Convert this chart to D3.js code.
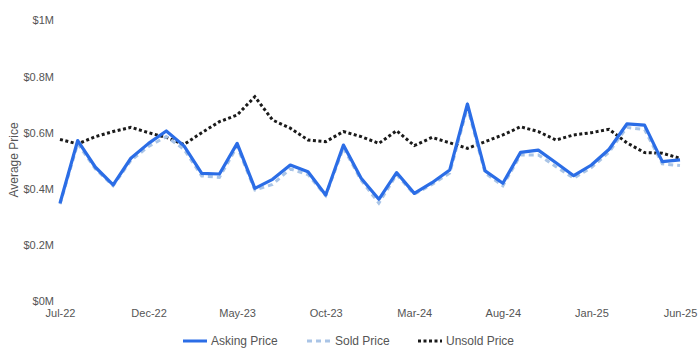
<!DOCTYPE html>
<html><head><meta charset="utf-8">
<script src="https://cdn.jsdelivr.net/npm/d3@7"></script>
<style>body{margin:0;background:#fff;} text{font-family:"Liberation Sans",Arial,sans-serif;}</style>
</head><body><svg id="c" width="700" height="350"></svg>
<script>
const months = ["Jul-22","Aug-22","Sep-22","Oct-22","Nov-22","Dec-22","Jan-23","Feb-23","Mar-23","Apr-23","May-23","Jun-23",
"Jul-23","Aug-23","Sep-23","Oct-23","Nov-23","Dec-23","Jan-24","Feb-24","Mar-24","Apr-24","May-24","Jun-24",
"Jul-24","Aug-24","Sep-24","Oct-24","Nov-24","Dec-24","Jan-25","Feb-25","Mar-25","Apr-25","May-25","Jun-25"];
const asking = [0.348,0.571,0.476,0.413,0.508,0.561,0.605,0.552,0.454,0.452,0.561,0.401,
0.433,0.484,0.460,0.377,0.555,0.437,0.362,0.457,0.383,0.421,0.466,0.701,
0.463,0.419,0.529,0.537,0.492,0.446,0.484,0.540,0.630,0.626,0.496,0.502];
const sold = [0.345,0.560,0.470,0.410,0.500,0.550,0.585,0.540,0.445,0.440,0.550,0.395,
0.415,0.470,0.450,0.375,0.545,0.430,0.348,0.450,0.380,0.415,0.455,0.690,
0.455,0.410,0.520,0.520,0.478,0.437,0.475,0.530,0.618,0.610,0.488,0.482];
const unsold = [0.575,0.559,0.585,0.603,0.618,0.599,0.582,0.557,0.599,0.638,0.662,0.727,
0.644,0.615,0.573,0.567,0.603,0.585,0.561,0.606,0.553,0.582,0.563,0.543,
0.567,0.591,0.620,0.603,0.573,0.591,0.599,0.611,0.563,0.528,0.526,0.508];
const yTicks = [0,0.2,0.4,0.6,0.8,1];
const xTickLabels = ["Jul-22","Dec-22","May-23","Oct-23","Mar-24","Aug-24","Jan-25","Jun-25"];

const svg = d3.select("#c");
const x = d3.scalePoint().domain(months).range([60,680]);
const y = d3.scaleLinear().domain([0,1]).range([301,20]);

const yAxis = svg.append("g").attr("transform","translate(54,0)")
  .call(d3.axisLeft(y).tickValues(yTicks).tickSize(0).tickPadding(0).tickFormat(d=>"$"+(d===0?"0":d===1?"1":d3.format(".1f")(d))+"M"));
yAxis.select(".domain").remove();
yAxis.selectAll("text").attr("fill","#555").style("font-size","11px").attr("dy","0.35em");

const xAxis = svg.append("g").attr("transform","translate(0,309)")
  .call(d3.axisBottom(x).tickValues(xTickLabels).tickSize(0).tickPadding(0));
xAxis.select(".domain").remove();
xAxis.selectAll("text").attr("fill","#555").style("font-size","11px").attr("dy","0.71em");

svg.append("text").attr("transform","translate(18,160) rotate(-90)").attr("text-anchor","middle")
  .attr("fill","#555").style("font-size","12px").text("Average Price");

const line = d3.line().x((d,i)=>x(months[i])).y(d=>y(d));
svg.append("path").datum(unsold).attr("d",line).attr("fill","none").attr("stroke","#1a1a1a")
  .attr("stroke-width",3).attr("stroke-dasharray","3,2.5");
svg.append("path").datum(sold).attr("d",line).attr("fill","none").attr("stroke","#a9c4e6")
  .attr("stroke-width",3).attr("stroke-dasharray","5,4");
svg.append("path").datum(asking).attr("d",line).attr("fill","none").attr("stroke","#2b6de6")
  .attr("stroke-width",3.2).attr("stroke-linejoin","round");

const legend = [
  {name:"Asking Price", color:"#2b6de6", dash:null, x:183},
  {name:"Sold Price", color:"#a9c4e6", dash:"5,4", x:307},
  {name:"Unsold Price", color:"#1a1a1a", dash:"3,2.5", x:418}
];
const lg = svg.append("g");
legend.forEach(l=>{
  lg.append("line").attr("x1",l.x).attr("x2",l.x+24).attr("y1",341).attr("y2",341)
    .attr("stroke",l.color).attr("stroke-width",3).attr("stroke-dasharray",l.dash);
  lg.append("text").attr("x",l.x+28).attr("y",341).attr("dy","0.35em").attr("fill","#555")
    .style("font-size","12px").text(l.name);
});
</script></body></html>
